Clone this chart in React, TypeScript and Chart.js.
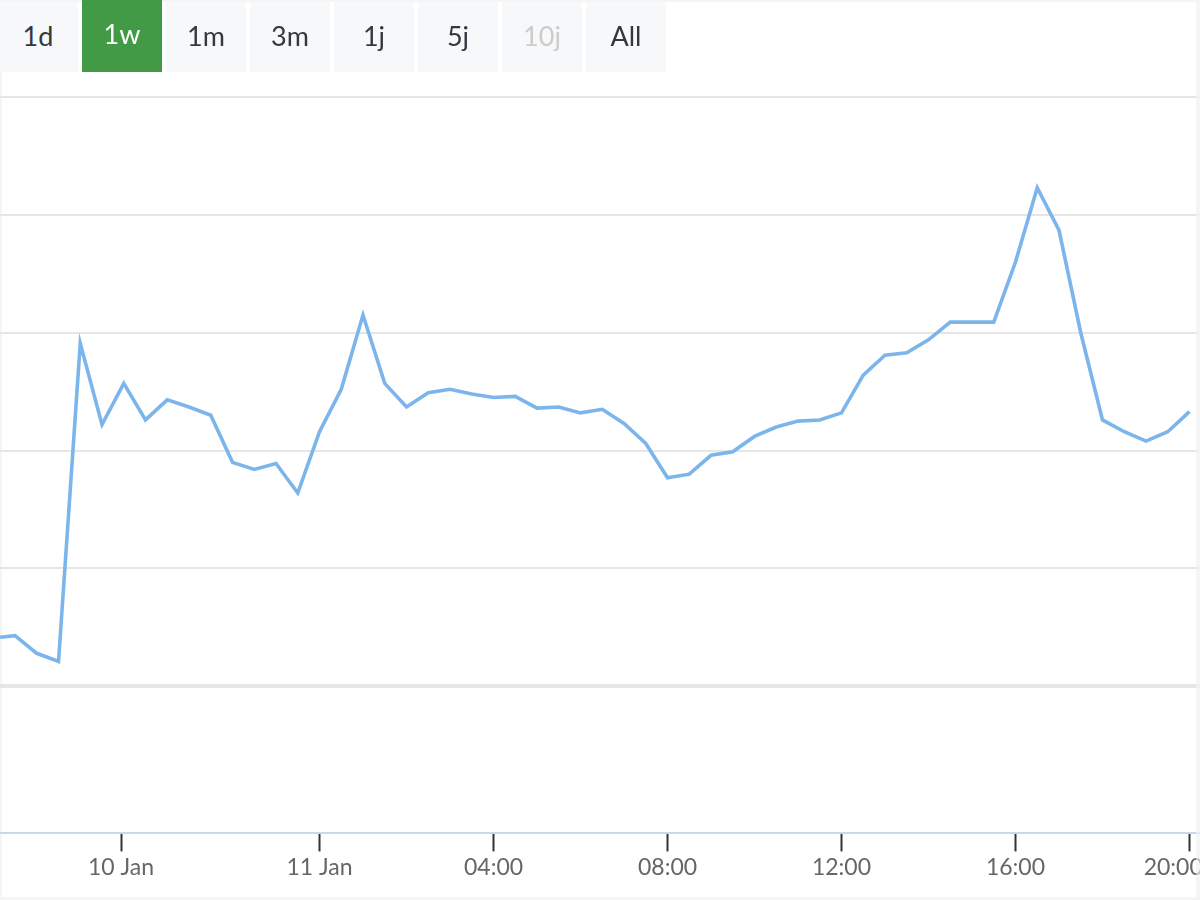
import { useEffect, useRef } from "react";
import Chart from "chart.js/auto";

// 30-minute closes, one per ordinal slot (gaps in time are skipped)
const closes = [
  2.041, 2.043, 2.028, 2.021, 2.291, 2.222, 2.257, 2.226, 2.243, 2.237,
  2.23, 2.19, 2.184, 2.189, 2.164, 2.216, 2.252, 2.315, 2.257, 2.237,
  2.249, 2.252, 2.248, 2.245, 2.246, 2.236, 2.237, 2.232, 2.235, 2.223,
  2.206, 2.177, 2.18, 2.196, 2.199, 2.212, 2.22, 2.225, 2.226, 2.232,
  2.264, 2.281, 2.283, 2.294, 2.309, 2.309, 2.309, 2.36, 2.423, 2.387,
  2.3, 2.226, 2.216, 2.208, 2.216, 2.233,
];

// x-axis ticks sit on ordinal positions
const tickSlots = [5.874, 15, 23, 31, 39, 47, 55];
const tickLabels = ["10 Jan", "11 Jan", "04:00", "08:00", "12:00", "16:00", "20:00"];
// the last label is pushed left so it stays inside the chart (like "justify")
const lastLabelSlot = 54.25;

const gridValues = [2.0, 2.1, 2.2, 2.3, 2.4, 2.5];

const ranges = ["1d", "1w", "1m", "3m", "1j", "5j", "10j", "All"];
const selectedRange = "1w";
const disabledRange = "10j";

const FONT = "Lato, 'Open Sans', sans-serif";

export default function App() {
  const canvasRef = useRef<HTMLCanvasElement | null>(null);
  const chartRef = useRef<Chart | null>(null);

  useEffect(() => {
    if (!canvasRef.current) return;
    chartRef.current?.destroy();
    const n = tickSlots.length;
    chartRef.current = new Chart(canvasRef.current, {
      type: "line",
      data: {
        datasets: [
          {
            label: "Koers",
            data: closes.map((v, i) => ({ x: i, y: v })),
            borderColor: "#7cb5ec",
            borderWidth: 3.6,
            pointRadius: 0,
            tension: 0,
            fill: false,
          },
        ],
      },
      options: {
        responsive: true,
        maintainAspectRatio: false,
        animation: false,
        // extra right room so the last label can run past the visible edge
        layout: { padding: { top: 97, left: 0, right: 40, bottom: 17 } },
        plugins: {
          legend: { display: false },
          tooltip: { enabled: false },
        },
        scales: {
          x: {
            type: "linear",
            min: 0.31,
            max: 55.483,
            afterBuildTicks: (axis) => {
              axis.ticks = [...tickSlots, lastLabelSlot].map((v) => ({ value: v }));
            },
            ticks: {
              autoSkip: false,
              maxRotation: 0,
              padding: 2,
              color: "#666666",
              font: { family: FONT, size: 23 },
              callback: (_v, idx) => {
                if (idx === n - 1) return "";
                if (idx === n) return tickLabels[n - 1];
                return tickLabels[idx];
              },
            },
            grid: {
              display: true,
              drawOnChartArea: false,
              drawTicks: true,
              tickLength: 18,
              tickColor: (ctx) => (ctx.index === n ? "rgba(0,0,0,0)" : "#333333"),
              tickWidth: 2,
            },
            border: { display: true, color: "#ccd6eb", width: 2 },
          },
          y: {
            min: 1.8752,
            max: 2.5,
            afterBuildTicks: (axis) => {
              axis.ticks = gridValues.map((v) => ({ value: v }));
            },
            ticks: { display: false },
            grid: {
              color: "#e6e6e6",
              lineWidth: (ctx) => (ctx.tick && ctx.tick.value === 2.0 ? 4 : 2),
              drawTicks: false,
            },
            border: { display: false },
          },
        },
      },
    });
    return () => {
      chartRef.current?.destroy();
      chartRef.current = null;
    };
  }, []);

  return (
    <div
      style={{
        position: "fixed",
        left: 0,
        top: 0,
        width: 1200,
        height: 900,
        overflow: "hidden",
        background: "#ffffff",
        fontFamily: FONT,
      }}
    >
      <div
        style={{
          position: "absolute",
          left: 0,
          top: 0,
          width: 1200,
          height: 900,
          boxSizing: "border-box",
          borderStyle: "solid",
          borderColor: "#f5f5f5",
          borderWidth: "2px 4px 3px 2px",
        }}
      />
      <div style={{ position: "absolute", left: 0, top: 0, width: 1240, height: 900 }}>
        <canvas ref={canvasRef} />
      </div>
      <div
        style={{
          position: "absolute",
          right: 0,
          top: 0,
          width: 4,
          height: 900,
          background: "rgba(245,245,245,0.6)",
        }}
      />
      {ranges.map((r, i) => {
        const sel = r === selectedRange;
        const dis = r === disabledRange;
        return (
          <div
            key={r}
            style={{
              position: "absolute",
              left: -2 + i * 84,
              top: sel ? 0 : 2,
              width: 80,
              height: sel ? 72 : 70,
              background: sel ? "#439a46" : "#f7f8fa",
              color: sel ? "#ffffff" : dis ? "#cccccc" : "#333840",
              fontSize: 27,
              display: "flex",
              alignItems: "center",
              justifyContent: "center",
              lineHeight: 1,
              paddingBottom: sel ? 6 : 4,
              boxSizing: "border-box",
            }}
          >
            {r}
          </div>
        );
      })}
    </div>
  );
}
